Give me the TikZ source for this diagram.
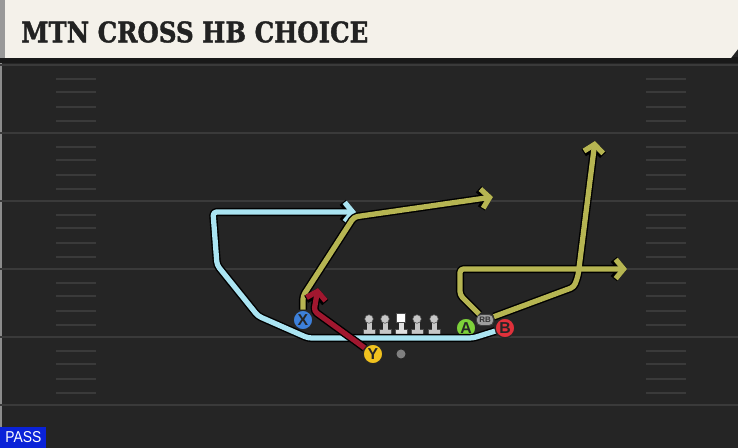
\documentclass[tikz,border=0pt]{standalone}
\usepackage{fontspec}
\setsansfont{Liberation Sans}
\newfontfamily\titlefont[FakeBold=1.5]{DejaVu Serif}
\usepackage{tikz}
\usetikzlibrary{arrows.meta}

\definecolor{turf}{HTML}{252525}
\definecolor{yardline}{HTML}{3A3A3A}
\definecolor{cream}{HTML}{F4F1EA}
\definecolor{ink}{HTML}{222222}
\definecolor{passblue}{HTML}{0A22D8}
\definecolor{iceroute}{HTML}{AAE4F2}
\definecolor{oliveroute}{HTML}{B6B552}
\definecolor{redroute}{HTML}{A1172F}
\definecolor{xblue}{HTML}{3D80DA}
\definecolor{ygold}{HTML}{F1C21E}
\definecolor{agreen}{HTML}{7DD13A}
\definecolor{bred}{HTML}{E0313B}

\begin{document}
\begin{tikzpicture}[x=0.02cm,y=-0.02cm,
				player/.style={circle,draw=black!85,line width=0.7pt,minimum size=0.39cm,inner sep=0pt,
					font=\sffamily\bfseries\fontsize{9}{9}\selectfont,text=black!85},
				tag/.style={rectangle,rounded corners=2.5pt,fill=black!38,draw=black!75,line width=0.5pt,
					minimum width=0.34cm,minimum height=0.22cm,inner sep=0pt,
					font=\sffamily\bfseries\fontsize{4.5}{4.5}\selectfont,text=black!80},
				route/.style={line join=round,rounded corners=2pt,-{Straight Barb[length=4.5pt,width=11pt]}}]
				
				% Field
				\useasboundingbox (0,0) rectangle (738,448);
				\fill[turf] (0,0) rectangle (738,448);
				\draw[black!45,line width=1pt] (1,58) -- (1,448);
				\foreach \y in {65,133,...,405}
				\draw[yardline,line width=1.4pt] (0,\y) -- (738,\y);
				
				% Hash marks
				\foreach \y in {65,133,...,337}
				\foreach \d in {14,27,42,56} {
					\draw[yardline,line width=1.1pt] (56,\y+\d) -- (96,\y+\d);
					\draw[yardline,line width=1.1pt] (646,\y+\d) -- (686,\y+\d);
				}
				
				% Title bar
				\fill[black!90] (0,57) rectangle (738,63);
				\fill[cream] (5,0) -- (738,0) -- (738,49) -- (731,58) -- (5,58) -- cycle;
				\fill[black!40] (0,0) rectangle (5,58);
				\node[anchor=west,inner sep=0pt,text=ink] (title) at (21,32)
				{\resizebox{6.94cm}{0.42cm}{\titlefont\bfseries MTN CROSS HB CHOICE}};
				
				% Play type
				\node[fill=passblue,anchor=south west,minimum width=0.92cm,minimum height=0.42cm,
				inner sep=0pt,text=white] (pass) at (0,448)
				{\resizebox{0.72cm}{0.22cm}{\sffamily PASS}};
				
				% Offensive line
				\foreach \x in {369,385,417,434} {
					\fill[black!22,draw=black!70,line width=0.3pt] (\x-6,329) rectangle (\x+6,335.5);
					\fill[black!22] (\x-2.5,320) rectangle (\x+2.5,331);
					\fill[black!22,draw=black!70,line width=0.3pt] (\x,319) circle (4.3);
				}
				\fill[black!12,draw=black!70,line width=0.3pt] (395,329) rectangle (407,335.5);
				\fill[black!12] (398.5,320) rectangle (403.5,331);
				\fill[white,draw=black!70,line width=0.3pt] (396.5,313.5) rectangle (405.5,322.5);
				\fill[black!50] (401,354) circle (4.5);
				
				% Players
				\node[player,fill=xblue] (X) at (303,320) {X};
				\node[player,fill=ygold] (Y) at (373,354) {Y};
				\node[player,fill=agreen] (A) at (466,328) {A};
				\node[player,fill=bred] (B) at (505,328) {B};
				\node[tag] (RB) at (485,320) {RB};
				
				% Route ends
				\coordinate (cEnd) at (356,212);
				\coordinate (xEnd) at (493,197);
				\coordinate (yEnd) at (318,288);
				\coordinate (aEnd) at (627,269);
				\coordinate (bEnd) at (595,141);
				
				% Routes
				\foreach \c/\w in {black/4.6pt,iceroute/3pt}
				\draw[route,color=\c,line width=\w] (B) -- (473,338) -- (308,338) -- (258,316)
				-- (217,265) -- (213,212) -- (cEnd);
				\foreach \c/\w in {black/4.6pt,oliveroute/3pt}
				\draw[route,color=\c,line width=\w] (X) -- (303,296) -- (354,217) -- (xEnd);
				\foreach \c/\w in {black/4.6pt,redroute/3pt}
				\draw[route,color=\c,line width=\w] (Y) -- (314,311) -- (yEnd);
				\foreach \c/\w in {black/4.6pt,oliveroute/3pt} {
					\draw[route,color=\c,line width=\w] (RB) -- (460,295) -- (460,269) -- (aEnd);
					\draw[route,color=\c,line width=\w] (RB) -- (574,287) -- (578,276) -- (bEnd);
				}
			\end{tikzpicture}
\end{document}
